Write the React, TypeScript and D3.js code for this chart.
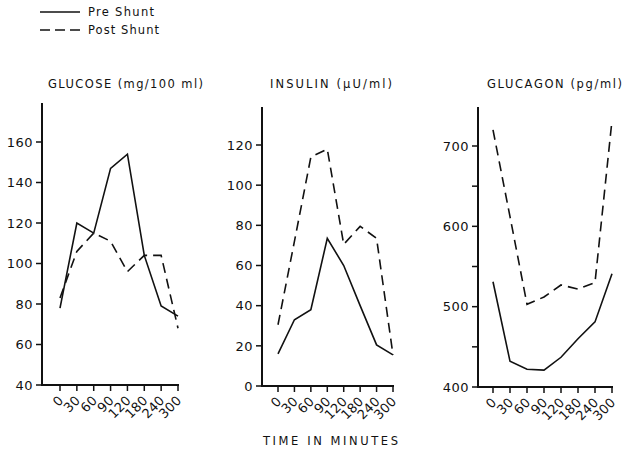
import React from "react";
import * as d3 from "d3";

const times = ["0", "30", "60", "90", "120", "180", "240", "300"];

const glucosePre = [78, 120, 115, 147, 154, 104, 79, 74];
const glucosePost = [83, 106, 115, 111, 96, 104, 104, 68];
const glucoseTicks = [40, 60, 80, 100, 120, 140, 160];

const insulinPre = [16, 33, 38, 73.5, 60, 40, 20.5, 15.5];
const insulinPost = [30.5, 72, 114, 118, 70.5, 79.5, 73.5, 15.5];
const insulinTicks = [0, 20, 40, 60, 80, 100, 120];

const glucagonPre = [531, 432, 422, 421, 437, 460, 481, 541];
const glucagonPost = [720, 612, 503, 512, 527, 522, 530, 732];
const glucagonTicks = [400, 500, 600, 700];
const glucagonMinor = [450, 550, 650];

const FONT = "'DejaVu Sans', 'Liberation Sans', sans-serif";

type PanelProps = {
  title: string;
  titleX: number;
  titleW: number;
  axisX: number;
  xRange: [number, number];
  yDomain: [number, number];
  yRange: [number, number];
  axisTop: number;
  pre: number[];
  post: number[];
  ticks: number[];
  minor?: number[];
};

function Panel(p: PanelProps) {
  const x = d3.scalePoint<string>().domain(times).range(p.xRange);
  const y = d3.scaleLinear().domain(p.yDomain).range(p.yRange);
  const line = d3
    .line<number>()
    .x((_, i) => x(times[i]) as number)
    .y((d) => y(d));
  const baseY = p.yRange[0];
  return (
    <g>
      <text
        x={p.titleX}
        y={88}
        fontSize={11.5}
        textLength={p.titleW}
        lengthAdjust="spacing"
        fontFamily={FONT}
        fill="#111"
      >
        {p.title}
      </text>
      <line x1={p.axisX} x2={p.axisX} y1={p.axisTop} y2={baseY + 1} stroke="#111" strokeWidth={2} />
      <line x1={p.axisX} x2={p.xRange[1] + 1} y1={baseY} y2={baseY} stroke="#111" strokeWidth={2} />
      {p.ticks.map((t) => (
        <g key={"yt" + t}>
          <line x1={p.axisX - 6} x2={p.axisX} y1={y(t)} y2={y(t)} stroke="#111" strokeWidth={1.5} />
          <text
            x={p.axisX - 9}
            y={y(t)}
            dy="0.36em"
            textAnchor="end"
            fontSize={13}
            letterSpacing={0.5}
            fontFamily={FONT}
            fill="#111"
          >
            {t}
          </text>
        </g>
      ))}
      {(p.minor || []).map((t) => (
        <line key={"ym" + t} x1={p.axisX - 6} x2={p.axisX} y1={y(t)} y2={y(t)} stroke="#111" strokeWidth={1.5} />
      ))}
      {times.map((t) => {
        const tx = x(t) as number;
        return (
          <g key={"xt" + t}>
            <line x1={tx} x2={tx} y1={baseY} y2={baseY + 6} stroke="#111" strokeWidth={1.5} />
            <text
              transform={`translate(${tx + 1},${baseY + 13}) rotate(-45)`}
              textAnchor="end"
              dy="0.35em"
              fontSize={13}
              letterSpacing={0.2}
              fontFamily={FONT}
              fill="#111"
            >
              {t}
            </text>
          </g>
        );
      })}
      <path d={line(p.pre) || ""} fill="none" stroke="#111" strokeWidth={1.6} strokeLinejoin="miter" />
      <path
        d={line(p.post) || ""}
        fill="none"
        stroke="#111"
        strokeWidth={1.6}
        strokeDasharray="10 6"
      />
    </g>
  );
}

export default function App() {
  return (
    <svg
      width={629}
      height={453}
      style={{ position: "absolute", left: 0, top: 0, background: "#fff" }}
    >
      <rect width={629} height={453} fill="#fff" />
      <line x1={40} x2={80} y1={12} y2={12} stroke="#111" strokeWidth={1.6} />
      <text x={88} y={16} fontSize={11.5} textLength={66} lengthAdjust="spacing" fontFamily={FONT} fill="#111">
        Pre Shunt
      </text>
      <line x1={40} x2={80} y1={30} y2={30} stroke="#111" strokeWidth={1.6} strokeDasharray="10 5" />
      <text x={88} y={34} fontSize={11.5} textLength={71} lengthAdjust="spacing" fontFamily={FONT} fill="#111">
        Post Shunt
      </text>

      <Panel
        title="GLUCOSE (mg/100 ml)"
        titleX={48}
        titleW={155}
        axisX={42}
        xRange={[60, 178]}
        yDomain={[40, 160]}
        yRange={[385, 142]}
        axisTop={103}
        pre={glucosePre}
        post={glucosePost}
        ticks={glucoseTicks}
      />
      <Panel
        title="INSULIN (μU/ml)"
        titleX={270}
        titleW={122}
        axisX={262}
        xRange={[278, 393]}
        yDomain={[0, 120]}
        yRange={[386, 145]}
        axisTop={107}
        pre={insulinPre}
        post={insulinPost}
        ticks={insulinTicks}
      />
      <Panel
        title="GLUCAGON (pg/ml)"
        titleX={487}
        titleW={135}
        axisX={478}
        xRange={[493, 612]}
        yDomain={[400, 700]}
        yRange={[387, 146]}
        axisTop={107}
        pre={glucagonPre}
        post={glucagonPost}
        ticks={glucagonTicks}
        minor={glucagonMinor}
      />
      <text
        x={263}
        y={445}
        textLength={135}
        lengthAdjust="spacing"
        fontSize={11.5}
        fontFamily={FONT}
        fill="#111"
      >
        TIME IN MINUTES
      </text>
    </svg>
  );
}
